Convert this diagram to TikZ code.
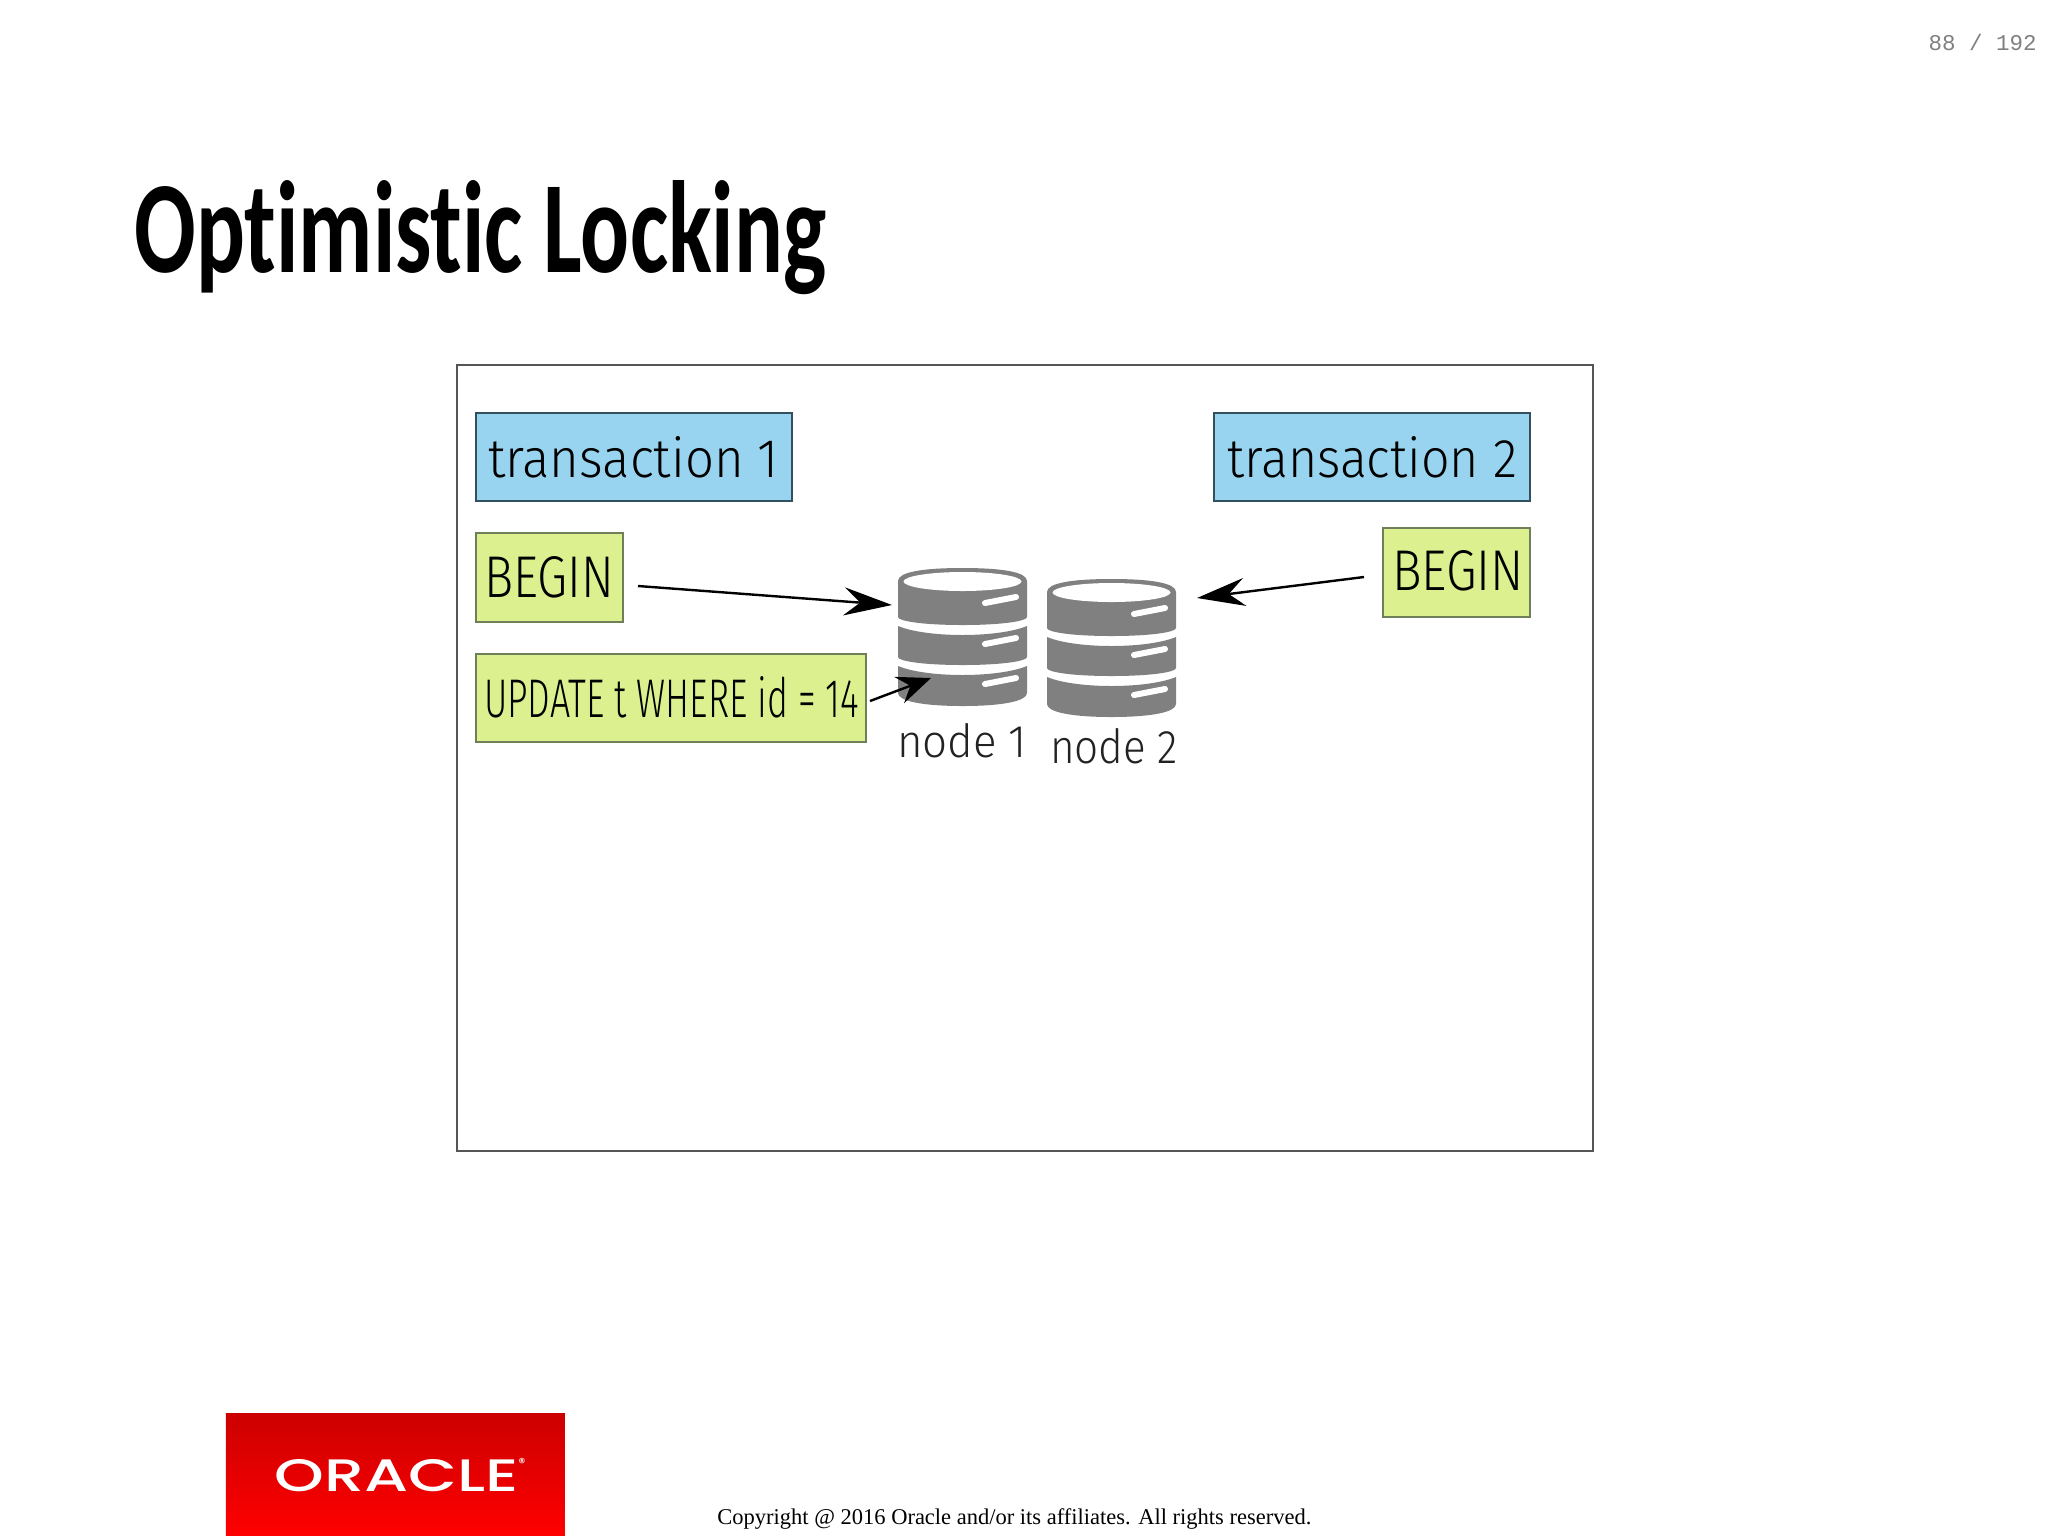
\documentclass[tikz,border=0pt]{standalone}
\usepackage{graphicx}
\usepackage{fontspec}
\setmainfont{Liberation Serif}
\newfontfamily\titlefont[Ligatures=NoCommon,RawFeature={-liga;-clig;-dlig}]{Carlito}
\newfontfamily\labelfont[UprightFont=* Light]{Fira Sans}
\newfontfamily\logofont[UprightFont=* Medium]{Poppins}
\newfontfamily\monofont{Liberation Mono}
\usetikzlibrary{arrows.meta,shapes.geometric}
\definecolor{dbgrey}{HTML}{808080}
\definecolor{txblue}{HTML}{98D4F0}
\definecolor{txedge}{HTML}{33505F}
\definecolor{stgreen}{HTML}{DCF090}
\definecolor{stedge}{HTML}{6E7F5A}
\definecolor{frameedge}{HTML}{555555}
\definecolor{labelink}{HTML}{000000}
\definecolor{nodeink}{HTML}{222222}
\definecolor{logotop}{HTML}{CC0000}
\definecolor{logobot}{HTML}{FF0000}
\tikzset{
  txbox/.style={draw=txedge,line width=1pt,fill=txblue},
  stbox/.style={draw=stedge,line width=1pt,fill=stgreen},
  lbl/.style={anchor=base west,inner sep=0pt,outer sep=0pt,text=labelink,font=\labelfont},
  nodelbl/.style={lbl,text=nodeink},
  bigarrow/.style={-{Stealth[length=24pt,width=14pt,inset=8pt]},line width=1.2pt,black},
  smallarrow/.style={-{Stealth[length=17pt,width=14pt,inset=6pt]},line width=1.2pt,black},
  pics/dbicon/.style={code={
    \fill[dbgrey] (0,13) .. controls (0,4) and (25,0) .. (64.5,0) .. controls (104,0) and (129,4) .. (129,13)
      -- (129,49) .. controls (129,53) and (105,57) .. (64.5,57) .. controls (24,57) and (0,53) .. (0,49) -- cycle;
    \fill[white] (64.5,13.5) ellipse [x radius=29.5pt,y radius=4.75pt];
    \fill[dbgrey] (0,58) .. controls (12,63) and (35,67) .. (64.5,67) .. controls (94,67) and (117,63) .. (129,58)
      -- (129,89) .. controls (129,93) and (105,97) .. (64.5,97) .. controls (24,97) and (0,93) .. (0,89) -- cycle;
    \fill[dbgrey] (0,98) .. controls (12,103) and (35,107) .. (64.5,107) .. controls (94,107) and (117,103) .. (129,98)
      -- (129,125) .. controls (129,133) and (105,138) .. (64.5,138) .. controls (24,138) and (0,133) .. (0,125) -- cycle;
    \draw[white,line width=3pt,line cap=round] (87,35) -- (118,29);
    \draw[white,line width=3pt,line cap=round] (87,76) -- (118,70);
    \draw[white,line width=3pt,line cap=round] (87,116) -- (118,110);
  }}
}
\begin{document}
\begin{tikzpicture}[x=0.5pt,y=-0.5pt]
\useasboundingbox (0,0) rectangle (2048,1537);
\fill[white] (0,0) rectangle (2048,1537);

% page number and title
\node[anchor=base east,inner sep=0pt,text=dbgrey,font=\monofont\fontsize{11.25pt}{13pt}\selectfont] (pageno) at (2037,50) {88 / 192};
\node[anchor=base west,inner sep=0pt,font=\titlefont\bfseries] (title) at (134,272) {\resizebox{346pt}{46pt}{Optimistic Locking}};

% frame
\node[draw=frameedge,line width=1pt,minimum width=568pt,minimum height=393pt,inner sep=0pt,anchor=north west] (frame) at (456,363.5) {};

% boxes
\node[txbox,minimum width=158pt,minimum height=44pt,inner sep=0pt,anchor=north west] (tx1) at (474.5,411.5) {};
\node[txbox,minimum width=158pt,minimum height=44pt,inner sep=0pt,anchor=north west] (tx2) at (1213,411.5) {};
\node[stbox,minimum width=73.5pt,minimum height=44.5pt,inner sep=0pt,anchor=north west] (begin1) at (474.5,531.5) {};
\node[stbox,minimum width=73.5pt,minimum height=44.5pt,inner sep=0pt,anchor=north west] (begin2) at (1382,526.5) {};
\node[stbox,minimum width=195pt,minimum height=44pt,inner sep=0pt,anchor=north west] (update) at (474.5,653) {};

% box labels
\node[lbl] (tx1t) at (488,477) {\resizebox{145.5pt}{20.5pt}{transaction 1}};
\node[lbl] (tx2t) at (1227,477) {\resizebox{145pt}{20.5pt}{transaction 2}};
\node[lbl] (begin1t) at (484,597) {\resizebox{65pt}{20.5pt}{BEGIN}};
\node[lbl] (begin2t) at (1392,590) {\resizebox{66pt}{20pt}{BEGIN}};
\node[lbl] (updatet) at (484,717) {\resizebox{187.5pt}{20.5pt}{UPDATE t WHERE id = 14}};

% database icons
\pic (db1) at (898,568) {dbicon};
\pic (db2) at (1047,579) {dbicon};
\node[nodelbl] (n1) at (897,757) {\resizebox{65pt}{17pt}{node 1}};
\node[nodelbl] (n2) at (1050,763) {\resizebox{64pt}{17.5pt}{node 2}};

% arrows
\coordinate (a1s) at (638,586);
\coordinate (a1e) at (892,605);
\coordinate (a2s) at (1364,577);
\coordinate (a2e) at (1197,598);
\coordinate (a3s) at (870,701);
\coordinate (a3e) at (931,678);
\draw[bigarrow] (a1s) -- (a1e);
\draw[bigarrow] (a2s) -- (a2e);
\draw[smallarrow] (a3s) -- (a3e);

% logo and copyright
\node[minimum width=169.5pt,minimum height=61pt,inner sep=0pt,anchor=north west,top color=logotop,bottom color=logobot] (logo) at (225.5,1413) {};
\node[anchor=base west,inner sep=0pt,text=white,font=\logofont] (oracle) at (274,1491) {\resizebox{122pt}{16pt}{ORACLE}};
\node[anchor=center,inner sep=0pt,text=white,font=\logofont\fontsize{6.5pt}{7pt}\selectfont] (reg) at (522,1463) {®};
\node[anchor=base west,inner sep=0pt,font=\rmfamily\fontsize{11.25pt}{14pt}\selectfont] (copy) at (717,1524) {Copyright @ 2016 Oracle and/or its affiliates. All rights reserved.};
\end{tikzpicture}
\end{document}
